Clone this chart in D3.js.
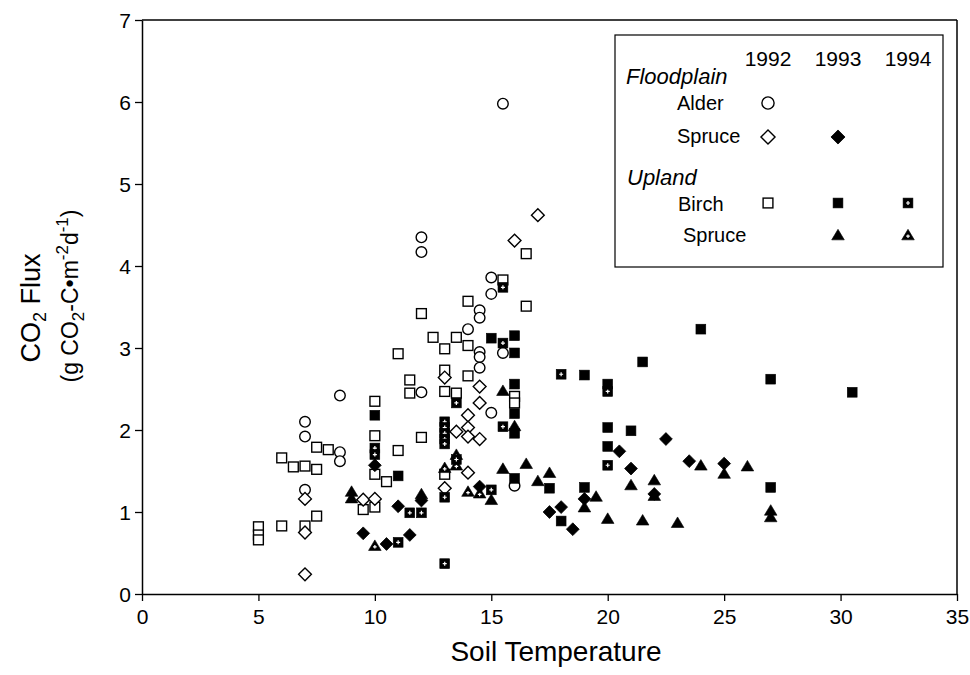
<!DOCTYPE html>
<html>
<head>
<meta charset="utf-8">
<script src="https://cdn.jsdelivr.net/npm/d3@7"></script>
<style>
  html, body { margin: 0; padding: 0; background: #fff; }
  svg { display: block; font-family: "Liberation Sans", Arial, sans-serif; }
</style>
</head>
<body>
<svg id="chart" width="970" height="675"></svg>
<script>
// ---- Data (soil temperature, CO2 flux) ----
const xTicks = [0, 5, 10, 15, 20, 25, 30, 35];
const yTicks = [0, 1, 2, 3, 4, 5, 6, 7];
const years = ["1992", "1993", "1994"];

const alder1992 = [
  [7, 2.10], [7, 1.92], [7, 1.27], [8.5, 2.42], [8.5, 1.73], [8.5, 1.62],
  [12, 4.35], [12, 4.17], [12, 2.46], [14, 3.23], [14.5, 3.46], [14.5, 3.37],
  [14.5, 2.95], [14.5, 2.89], [14.5, 2.76], [15, 3.86], [15, 3.66], [15, 2.21],
  [15.5, 5.98], [15.5, 2.94], [16, 1.32]
];
const fpSpruce1992 = [
  [7, 1.16], [7, 0.75], [7, 0.24], [9.5, 1.15], [10, 1.16], [13, 2.64], [13, 1.29],
  [13.5, 1.98], [14, 2.18], [14, 2.03], [14, 1.92], [14, 1.48], [14.5, 2.53],
  [14.5, 2.33], [14.5, 1.89], [16, 4.31], [17, 4.62]
];
const fpSpruce1993 = [
  [9.5, 0.74], [10, 1.57], [10.5, 0.61], [11, 1.07], [11.5, 0.72], [12, 1.14],
  [14.5, 1.31], [17.5, 1.0], [18, 1.06], [18.5, 0.79], [19, 1.16], [20.5, 1.74],
  [21, 1.53], [22, 1.22], [22.5, 1.89], [23.5, 1.62], [25, 1.59]
];
const birch1992 = [
  [5, 0.82], [5, 0.72], [5, 0.66], [6, 1.66], [6, 0.83], [6.5, 1.55], [7, 1.56],
  [7, 0.83], [7.5, 1.79], [7.5, 1.52], [7.5, 0.95], [8, 1.76], [9.5, 1.03],
  [10, 2.35], [10, 1.93], [10, 1.46], [10, 1.06], [10.5, 1.37], [11, 2.93],
  [11, 1.75], [11.5, 2.61], [11.5, 2.45], [12, 3.42], [12, 1.91], [12.5, 3.13],
  [13, 2.99], [13, 2.73], [13, 2.47], [13, 1.46], [13.5, 3.13], [13.5, 2.45],
  [14, 3.57], [14, 3.03], [14, 2.66], [15.5, 3.83], [16, 2.41], [16, 2.33],
  [16.5, 4.15], [16.5, 3.51]
];
const birch1993 = [
  [10, 2.18], [11, 1.44], [15, 3.12], [16, 3.15], [16, 2.94], [16, 2.56],
  [16, 2.20], [16, 1.96], [16, 1.41], [17.5, 1.29], [18, 0.89], [19, 2.67],
  [19, 1.30], [20, 2.56], [20, 2.03], [20, 1.80], [21, 1.99], [21.5, 2.83],
  [24, 3.23], [27, 2.62], [27, 1.30], [30.5, 2.46]
];
const birch1994 = [
  [10, 1.78], [10, 1.70], [11, 0.63], [11.5, 0.99], [12, 0.99], [13, 2.10],
  [13, 2.03], [13, 1.96], [13, 1.89], [13, 1.83], [13, 1.18], [13, 0.37],
  [13.5, 2.33], [13.5, 1.64], [15, 1.27], [15.5, 3.74], [15.5, 3.06],
  [15.5, 2.04], [18, 2.68], [20, 2.47], [20, 1.57]
];
const upSpruce1993 = [
  [9, 1.25], [9, 1.17], [12, 1.22], [15, 1.15], [15.5, 2.48], [15.5, 1.53],
  [16, 2.05], [16.5, 1.59], [17, 1.38], [17.5, 1.48], [19, 1.06], [19.5, 1.19],
  [20, 0.92], [21, 1.33], [21.5, 0.90], [22, 1.39], [22, 1.20], [23, 0.87],
  [24, 1.57], [25, 1.47], [26, 1.56], [27, 1.02], [27, 0.94]
];
const upSpruce1994 = [
  [10, 0.59], [13, 1.54], [13.5, 1.70], [13.5, 1.57], [14, 1.25], [14.5, 1.23]
];

// ---- Setup ----
const svg = d3.select("#chart");
const x = d3.scaleLinear().domain([0, 35]).range([142, 957]);
const y = d3.scaleLinear().domain([0, 7]).range([594, 20]);

// marker drawing helpers
function marker(g, type, cx, cy, scale) {
  const s = scale || 1;
  const t = `translate(${cx},${cy})`;
  if (type === "circleOpen") {
    g.append("circle").attr("cx", cx).attr("cy", cy).attr("r", 5.3 * s)
      .attr("fill", "#fff").attr("stroke", "#000").attr("stroke-width", 1.4);
  } else if (type === "diamondOpen" || type === "diamondFilled") {
    const h = 6.4 * s;
    g.append("path").attr("transform", t)
      .attr("d", `M0,${-h}L${h},0L0,${h}L${-h},0Z`)
      .attr("fill", type === "diamondOpen" ? "#fff" : "#000")
      .attr("stroke", "#000").attr("stroke-width", type === "diamondOpen" ? 1.4 : 0.8);
  } else if (type === "squareOpen" || type === "squareFilled" || type === "squareCross") {
    const h = 4.9 * s;
    g.append("rect").attr("x", cx - h).attr("y", cy - h).attr("width", 2 * h).attr("height", 2 * h)
      .attr("fill", type === "squareOpen" ? "#fff" : "#000")
      .attr("stroke", "#000").attr("stroke-width", type === "squareOpen" ? 1.4 : 0.6);
    if (type === "squareCross") {
      const c = 2.0 * s;
      g.append("path").attr("transform", t)
        .attr("d", `M${-c},0H${c}M0,${-c}V${c}`)
        .attr("stroke", "#fff").attr("stroke-width", 1.2);
    }
  } else if (type === "triFilled" || type === "triCross") {
    const w = 6.3 * s, hh = 5.7 * s;
    g.append("path").attr("transform", t)
      .attr("d", `M0,${-hh}L${w},${hh * 0.85}L${-w},${hh * 0.85}Z`)
      .attr("fill", "#000").attr("stroke", "#000").attr("stroke-width", 0.6);
    if (type === "triCross") {
      const c = 1.8 * s;
      g.append("path").attr("transform", `translate(${cx},${cy + 1.2 * s})`)
        .attr("d", `M${-c},0H${c}M0,${-c}V${c}`)
        .attr("stroke", "#fff").attr("stroke-width", 1.2);
    }
  }
}

const series = [
  { data: birch1992, type: "squareOpen" },
  { data: alder1992, type: "circleOpen" },
  { data: fpSpruce1992, type: "diamondOpen" },
  { data: upSpruce1994, type: "triCross" },
  { data: birch1994, type: "squareCross" },
  { data: birch1993, type: "squareFilled" },
  { data: upSpruce1993, type: "triFilled" },
  { data: fpSpruce1993, type: "diamondFilled" }
];

// ---- Axes ----
const xAxis = svg.append("g").attr("transform", "translate(0,594)")
  .call(d3.axisBottom(x).tickValues(xTicks).tickFormat(d3.format("d"))
    .tickSize(7).tickPadding(8).tickSizeOuter(0));
const yAxis = svg.append("g").attr("transform", `translate(${x(0)},0)`)
  .call(d3.axisLeft(y).tickValues(yTicks).tickFormat(d3.format("d"))
    .tickSize(7).tickPadding(4).tickSizeOuter(0));
[xAxis, yAxis].forEach(a => {
  a.select(".domain").attr("stroke", "#000").attr("stroke-width", 1.5);
  a.selectAll(".tick line").attr("stroke", "#000").attr("stroke-width", 1.3);
  a.selectAll(".tick text").attr("font-size", 21).attr("fill", "#000")
    .attr("font-family", "'Liberation Sans', Arial, sans-serif");
});
yAxis.selectAll(".tick text").attr("dy", "0.36em");
// frame top and right
svg.append("line").attr("x1", x(0)).attr("x2", x(35)).attr("y1", y(7)).attr("y2", y(7))
  .attr("stroke", "#000").attr("stroke-width", 1.5);
svg.append("line").attr("x1", x(35)).attr("x2", x(35)).attr("y1", y(7)).attr("y2", y(0))
  .attr("stroke", "#000").attr("stroke-width", 1.5);

// ---- Points ----
const pts = svg.append("g");
series.forEach(s => s.data.forEach(d => marker(pts, s.type, x(d[0]), y(d[1]))));

// ---- Axis titles ----
svg.append("text").attr("x", 556).attr("y", 661).attr("text-anchor", "middle")
  .attr("font-size", 28).attr("fill", "#000").text("Soil Temperature");

const yt1 = svg.append("text").attr("transform", "translate(40,308) rotate(-90)")
  .attr("text-anchor", "middle").attr("font-size", 27).attr("fill", "#000");
yt1.append("tspan").text("CO");
yt1.append("tspan").attr("font-size", 18).attr("dy", 6).text("2");
yt1.append("tspan").attr("dy", -6).text(" Flux");

const yt2 = svg.append("text").attr("transform", "translate(78,296) rotate(-90)")
  .attr("text-anchor", "middle").attr("font-size", 23).attr("fill", "#000");
yt2.append("tspan").text("(g CO");
yt2.append("tspan").attr("font-size", 17).attr("dy", 6).text("2");
yt2.append("tspan").attr("dy", -6).text("-C\u2022m");
yt2.append("tspan").attr("font-size", 17).attr("dy", -10).text("-2");
yt2.append("tspan").attr("dy", 10).text("d");
yt2.append("tspan").attr("font-size", 17).attr("dy", -10).text("-1");
yt2.append("tspan").attr("dy", 10).text(")");

// ---- Legend ----
const lg = svg.append("g");
lg.append("rect").attr("x", 615).attr("y", 35).attr("width", 328).attr("height", 232)
  .attr("fill", "#fff").attr("stroke", "#000").attr("stroke-width", 1.2);
const colX = [768, 838, 908];
years.forEach((yr, i) => lg.append("text").attr("x", colX[i]).attr("y", 66)
  .attr("text-anchor", "middle").attr("font-size", 21).attr("fill", "#000").text(yr));
lg.append("text").attr("x", 626).attr("y", 84).attr("font-size", 22).attr("font-style", "italic")
  .attr("fill", "#000").text("Floodplain");
lg.append("text").attr("x", 677).attr("y", 110).attr("font-size", 20).attr("fill", "#000").text("Alder");
lg.append("text").attr("x", 677).attr("y", 143).attr("font-size", 20).attr("fill", "#000").text("Spruce");
lg.append("text").attr("x", 627).attr("y", 185).attr("font-size", 22).attr("font-style", "italic")
  .attr("fill", "#000").text("Upland");
lg.append("text").attr("x", 678).attr("y", 211).attr("font-size", 20).attr("fill", "#000").text("Birch");
lg.append("text").attr("x", 683).attr("y", 242).attr("font-size", 20).attr("fill", "#000").text("Spruce");
marker(lg, "circleOpen", colX[0], 103, 1.15);
marker(lg, "diamondOpen", colX[0], 137, 1.1);
marker(lg, "diamondFilled", colX[1], 137, 1.1);
marker(lg, "squareOpen", colX[0], 203, 1.0);
marker(lg, "squareFilled", colX[1], 203, 1.0);
marker(lg, "squareCross", colX[2], 203, 1.0);
marker(lg, "triFilled", colX[1], 235, 1.0);
marker(lg, "triCross", colX[2], 235, 1.0);
</script>
</body>
</html>
